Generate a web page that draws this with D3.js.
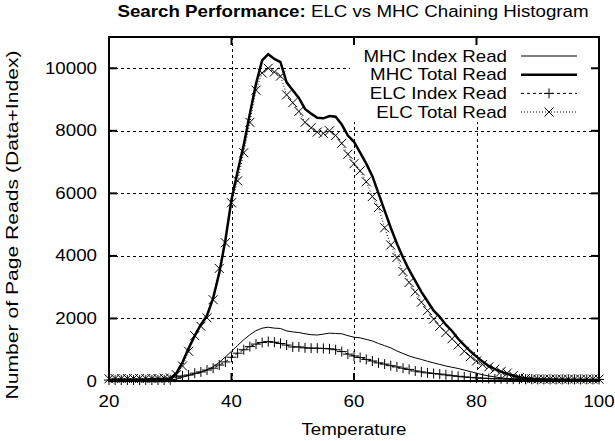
<!DOCTYPE html>
<html><head><meta charset="utf-8">
<script src="https://cdn.jsdelivr.net/npm/d3@7"></script>
<style>body{margin:0;background:#fff} svg{display:block}</style>
</head><body>
<svg id="c" width="615" height="441"></svg>
<script>
// ---- data ----
const temperature = [20,21,22,23,24,25,26,27,28,29,30,31,32,33,34,35,36,37,38,39,40,41,42,43,44,45,46,47,48,49,50,51,52,53,54,55,56,57,58,59,60,61,62,63,64,65,66,67,68,69,70,71,72,73,74,75,76,77,78,79,80,81,82,83,84,85,86,87,88,89,90,91,92,93,94,95,96,97,98,99,100];
const mhcIndex = [20,20,20,20,20,20,20,20,20,20,25,60,120,180,230,280,360,450,600,770,950,1140,1320,1480,1610,1690,1720,1690,1680,1600,1570,1550,1510,1480,1470,1500,1530,1520,1510,1450,1400,1380,1330,1280,1200,1130,1060,960,880,800,740,690,630,580,530,480,440,400,350,300,250,200,160,130,100,80,60,45,40,35,30,30,30,30,30,30,30,30,30,30,30];
const mhcTotal = [40,50,50,50,50,50,50,60,60,70,80,250,600,1050,1450,1800,2100,2650,3450,4500,5800,6700,7550,8550,9500,10250,10450,10300,10200,9550,9300,9050,8700,8550,8420,8400,8470,8450,8200,7850,7650,7300,6950,6550,6000,5450,4900,4400,3950,3550,3200,2850,2550,2250,2050,1800,1600,1350,1150,950,780,620,480,380,300,230,170,120,90,70,60,50,50,40,40,40,30,30,30,30,30];
const elcIndex = [30,30,30,30,30,30,30,30,30,30,40,130,160,190,250,290,350,410,510,610,760,890,1000,1100,1180,1230,1260,1240,1200,1150,1090,1090,1060,1050,1050,1040,1030,1000,940,860,800,750,690,640,580,540,490,450,410,370,320,290,260,240,220,195,170,150,130,115,100,90,80,70,70,60,60,60,55,55,50,50,50,50,50,50,50,50,50,50,50];
const elcTotal = [70,80,80,80,80,80,80,80,80,90,100,200,480,950,1450,1750,2020,2600,3600,4420,5700,6400,7300,8270,9300,9850,10000,9880,9750,9150,8900,8620,8270,8100,7960,7920,8000,7850,7600,7250,6950,6720,6370,5900,5550,4900,4350,3950,3500,3150,2850,2520,2250,1980,1750,1550,1350,1150,950,780,640,530,450,380,300,250,170,110,80,70,60,60,60,60,60,60,60,60,60,60,60];
const xTicks = [20,40,60,80,100];
const yTicks = [0,2000,4000,6000,8000,10000];
const seriesNames = ["MHC Index Read","MHC Total Read","ELC Index Read","ELC Total Read"];

// ---- layout ----
const svg = d3.select('#c');
const L = 109, R = 599, T = 37, B = 381;
const SX = 1.17, FS = 16;
const FONT = "'Liberation Sans', Arial, Helvetica, sans-serif";
const x = d3.scaleLinear().domain([20,100]).range([L,R]);
const y = d3.scaleLinear().domain([0,11000]).range([B,T]);

function txt(g, px, py, parts, anchor, rot, sx, fs){
  const t = g.append('text')
    .attr('transform', `translate(${px},${py})${rot?` rotate(${rot})`:''} scale(${sx||SX},1)`)
    .attr('text-anchor', anchor).attr('font-family', FONT).attr('font-size', fs||FS).attr('fill','#000');
  if (typeof parts === 'string') t.text(parts);
  else parts.forEach(p => t.append('tspan').attr('font-weight', p.b ? 'bold' : 'normal').text(p.t));
  return t;
}

// grid
const grid = svg.append('g').attr('stroke','#000').attr('stroke-width',1).attr('stroke-dasharray','3,3').attr('shape-rendering','crispEdges');
xTicks.slice(1,-1).forEach(v => grid.append('line').attr('x1',Math.round(x(v))+0.5).attr('x2',Math.round(x(v))+0.5).attr('y1',T).attr('y2',B));
yTicks.slice(1).forEach(v => grid.append('line').attr('x1',L).attr('x2',R).attr('y1',Math.round(y(v))+0.5).attr('y2',Math.round(y(v))+0.5));

// legend blanking box
svg.append('rect').attr('x',350).attr('y',T).attr('width',R-350).attr('height',122-T).attr('fill','#fff');

// data
const pts = arr => arr.map((v,i)=>[x(temperature[i]), y(v)]);
const line = d3.line();
const data = svg.append('g').attr('fill','none').attr('stroke','#000');
data.append('path').attr('d', line(pts(mhcIndex))).attr('stroke-width',1);
data.append('path').attr('d', line(pts(elcIndex))).attr('stroke-width',1).attr('stroke-dasharray','3,3');
data.append('path').attr('d', line(pts(elcTotal))).attr('stroke-width',1).attr('stroke-dasharray','1,2');
data.append('path').attr('d', line(pts(mhcTotal))).attr('stroke-width',2.5);

const M = 5;
function plus(g, cx, cy){ g.append('path').attr('d',`M${cx-M},${cy}H${cx+M}M${cx},${cy-M}V${cy+M}`); }
function cross(g, cx, cy){ const m=M*0.9; g.append('path').attr('d',`M${cx-m},${cy-m}L${cx+m},${cy+m}M${cx-m},${cy+m}L${cx+m},${cy-m}`); }
const mk = svg.append('g').attr('stroke','#000').attr('stroke-width',1).attr('fill','none');
pts(elcIndex).forEach(p => plus(mk, p[0], p[1]));
pts(elcTotal).forEach(p => cross(mk, p[0], p[1]));

// frame
svg.append('rect').attr('x',L).attr('y',T).attr('width',R-L).attr('height',B-T)
  .attr('fill','none').attr('stroke','#000').attr('stroke-width',2);
const tk = svg.append('g').attr('stroke','#000').attr('stroke-width',2);
const TL = 8;
xTicks.forEach(v => {
  tk.append('line').attr('x1',x(v)).attr('x2',x(v)).attr('y1',B).attr('y2',B-TL);
  tk.append('line').attr('x1',x(v)).attr('x2',x(v)).attr('y1',T).attr('y2',T+TL);
});
yTicks.forEach(v => {
  tk.append('line').attr('x1',L).attr('x2',L+TL).attr('y1',y(v)).attr('y2',y(v));
  tk.append('line').attr('x1',R).attr('x2',R-TL).attr('y1',y(v)).attr('y2',y(v));
});

// tick labels
const lab = svg.append('g');
xTicks.forEach(v => txt(lab, x(v), 407, String(v), 'middle'));
yTicks.forEach(v => txt(lab, 97, y(v)+5.5, String(v), 'end'));

// axis titles
txt(lab, 354, 435, 'Temperature', 'middle');
txt(lab, 18, 225, 'Number of Page Reads (Data+Index)', 'middle', -90, 1.28, 16.5);
txt(lab, 353, 17, [{t:'Search Performance:',b:true},{t:' ELC vs MHC Chaining Histogram'}], 'middle');

// legend
const lg = svg.append('g');
const rowY = [56, 74.7, 93.4, 112];
const lx1 = 521, lx2 = 577;
seriesNames.forEach((n,i) => txt(lg, 507, rowY[i]+5.5, n, 'end'));
lg.append('line').attr('x1',lx1).attr('x2',lx2).attr('y1',rowY[0]).attr('y2',rowY[0]).attr('stroke','#000').attr('stroke-width',1);
lg.append('line').attr('x1',lx1).attr('x2',lx2).attr('y1',rowY[1]).attr('y2',rowY[1]).attr('stroke','#000').attr('stroke-width',2.5);
lg.append('line').attr('x1',lx1).attr('x2',lx2).attr('y1',rowY[2]).attr('y2',rowY[2]).attr('stroke','#000').attr('stroke-width',1).attr('stroke-dasharray','3,3');
lg.append('line').attr('x1',lx1).attr('x2',lx2).attr('y1',rowY[3]).attr('y2',rowY[3]).attr('stroke','#000').attr('stroke-width',1).attr('stroke-dasharray','1,2');
const lgm = lg.append('g').attr('stroke','#000').attr('stroke-width',1).attr('fill','none');
plus(lgm, (lx1+lx2)/2, rowY[2]);
cross(lgm, (lx1+lx2)/2, rowY[3]);
</script>
</body></html>
